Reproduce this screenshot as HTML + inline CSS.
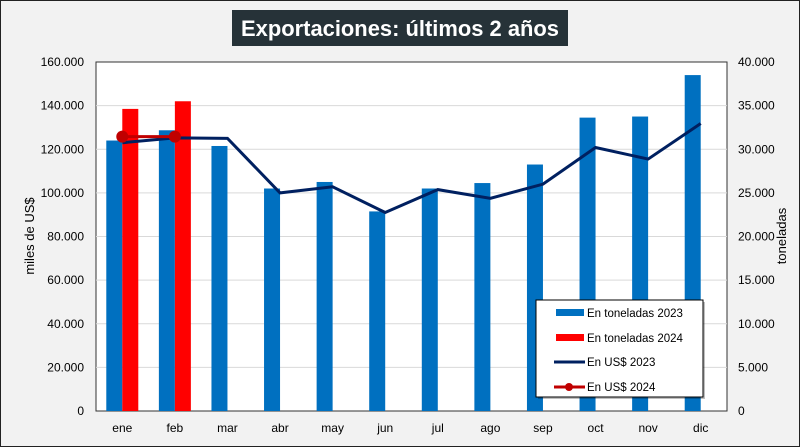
<!DOCTYPE html>
<html><head><meta charset="utf-8"><style>
body{margin:0;background:#fff}
svg{display:block;font-family:"Liberation Sans",sans-serif}
</style></head><body>
<svg id="c" width="800" height="447">
<rect x="0.5" y="0.5" width="799" height="446" fill="#f2f2f2" stroke="#222"/>
<rect x="232" y="10" width="336" height="36" fill="#263238"/>
<text x="400" y="36" text-anchor="middle" font-size="22" font-weight="bold" fill="#fff" textLength="318" lengthAdjust="spacingAndGlyphs">Exportaciones: últimos 2 años</text>
<rect x="96" y="62" width="631" height="349" fill="#fff" stroke="#333"/>
<g id="grid"></g><g id="bars"></g><g id="lines"></g><g id="axes"></g>
<text transform="translate(34,236) rotate(-90)" text-anchor="middle" font-size="13" fill="#000">miles de US$</text>
<text transform="translate(786,236) rotate(-90)" text-anchor="middle" font-size="13" fill="#000">toneladas</text>
<g>
<rect x="538" y="302" width="167" height="97" fill="#000" opacity="0.25"/>
<rect x="536" y="300" width="167" height="97" fill="#fff" stroke="#000"/>
<rect x="556" y="309" width="28" height="7" fill="#0070c0"/>
<text x="587" y="317" font-size="11.5">En toneladas 2023</text>
<rect x="556" y="334" width="28" height="7" fill="#ff0000"/>
<text x="587" y="342" font-size="11.5">En toneladas 2024</text>
<line x1="554" y1="362" x2="585" y2="362" stroke="#002060" stroke-width="3"/>
<text x="587" y="366" font-size="11.5">En US$ 2023</text>
<line x1="554" y1="387" x2="585" y2="387" stroke="#c00000" stroke-width="3"/>
<circle cx="569" cy="387" r="4" fill="#c00000"/>
<text x="587" y="391" font-size="11.5">En US$ 2024</text>
</g>
</svg>
<script>
const categories=["ene","feb","mar","abr","may","jun","jul","ago","sep","oct","nov","dic"];
const tons2023=[31000,32175,30375,25500,26250,22875,25500,26125,28250,33625,33750,38500];
const tons2024=[34625,35500];
const usd2023=[123000,125200,125000,100000,102800,91000,101500,97500,104000,120800,115500,131800];
const usd2024=[125800,125800];
const leftTicks=["0","20.000","40.000","60.000","80.000","100.000","120.000","140.000","160.000"];
const rightTicks=["0","5.000","10.000","15.000","20.000","25.000","30.000","35.000","40.000"];
const X0=96,X1=727,Y0=411,Y1=62,NS="http://www.w3.org/2000/svg";
const bw=(X1-X0)/categories.length;
const xc=i=>X0+bw*(i+0.5);
const yL=v=>Y0-v/160000*(Y0-Y1);
const yR=v=>Y0-v/40000*(Y0-Y1);
function mk(p,t,a){const e=document.createElementNS(NS,t);for(const k in a)e.setAttribute(k,a[k]);document.getElementById(p).appendChild(e);return e;}
leftTicks.forEach((t,i)=>{const y=Y0-i*(Y0-Y1)/8;
 if(i>0&&i<8){const g=mk("grid","line",{x1:X0,x2:X1,y1:y,y2:y,stroke:"#d9d9d9"});}
 const a=mk("axes","text",{x:84,y:y+4,"text-anchor":"end","font-size":"12"});a.textContent=t;
 const b=mk("axes","text",{x:738,y:y+4,"font-size":"12"});b.textContent=rightTicks[i];
});
categories.forEach((c,i)=>{const t=mk("axes","text",{x:xc(i),y:432,"text-anchor":"middle","font-size":"12"});t.textContent=c;});
tons2023.forEach((v,i)=>{const r=mk("bars","rect",{x:xc(i)-16,y:yR(v),width:16,height:Y0-yR(v),fill:"#0070c0"});});
tons2024.forEach((v,i)=>{const r=mk("bars","rect",{x:xc(i),y:yR(v),width:16,height:Y0-yR(v),fill:"#ff0000"});});
const l1=mk("lines","polyline",{points:usd2023.map((v,i)=>xc(i)+","+yL(v)).join(" "),fill:"none",stroke:"#002060","stroke-width":3});

const l2=mk("lines","polyline",{points:usd2024.map((v,i)=>xc(i)+","+yL(v)).join(" "),fill:"none",stroke:"#c00000","stroke-width":3});

usd2024.forEach((v,i)=>{const c=mk("lines","circle",{cx:xc(i),cy:yL(v),r:6,fill:"#c00000"});});
</script>
</body></html>
